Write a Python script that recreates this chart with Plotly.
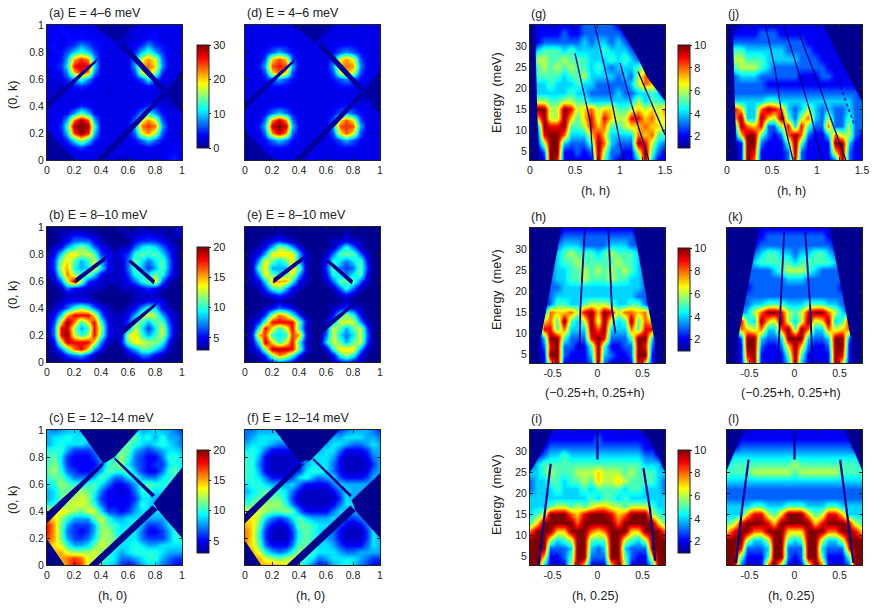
# constant-energy maps and energy cuts, 12 panels
import plotly.graph_objects as go

W, H = 872, 609

map_axis = [0.0, 0.05, 0.1, 0.15, 0.2, 0.25, 0.3, 0.35, 0.4, 0.45, 0.5, 0.55, 0.6, 0.65, 0.7, 0.75, 0.8, 0.85, 0.9, 0.95, 1.0]
map_k_desc = map_axis[::-1]
hh_axis = [0.0, 0.075, 0.15, 0.225, 0.3, 0.375, 0.45, 0.525, 0.6, 0.675, 0.75, 0.825, 0.9, 0.975, 1.05, 1.125, 1.2, 1.275, 1.35, 1.425, 1.5]
cut_axis = [-0.75, -0.675, -0.6, -0.525, -0.45, -0.375, -0.3, -0.225, -0.15, -0.075, 0.0, 0.075, 0.15, 0.225, 0.3, 0.375, 0.45, 0.525, 0.6, 0.675, 0.75]
energy_desc = [35, 33, 31, 29, 27, 25, 23, 21, 19, 17, 15, 13, 11, 9, 7, 5, 3]

# rows run from the top of the panel to the bottom
z_a = [
[3,3,4,3,3,3,3,3,2,1,1,1,1,2,3,3,3,3,3,3,3],
[4,3,4,4,3,4,3,3,3,2,1,1,2,3,3,3,4,3,3,3,3],
[3,4,3,4,4,4,4,4,3,3,2,2,2,3,3,4,4,3,3,3,3],
[4,4,3,4,5,8,6,4,4,3,3,2,3,3,5,8,5,4,3,3,3],
[3,4,4,6,10,13,10,6,3,3,3,3,3,5,10,13,9,5,3,3,3],
[4,3,4,9,21,25,22,9,3,3,3,3,3,8,18,22,18,7,3,3,3],
[3,4,5,11,26,28,27,11,3,3,3,3,3,9,21,23,20,8,3,3,3],
[3,3,4,8,21,26,22,8,3,3,3,3,3,6,19,22,16,5,3,3,3],
[3,3,3,5,8,13,8,4,3,3,3,3,3,4,6,12,7,3,3,3,2],
[3,2,2,3,4,5,4,3,3,3,3,3,3,3,3,4,3,3,2,2,2],
[2,2,3,3,3,3,3,3,3,2,3,3,3,3,3,3,3,2,1,1,1],
[3,3,3,3,3,3,3,3,3,3,3,3,3,3,3,3,3,2,2,1,1],
[3,3,3,3,3,5,4,3,3,3,3,3,3,3,3,5,4,3,2,2,2],
[3,3,3,4,8,14,9,4,3,3,3,3,3,4,8,12,8,4,3,3,3],
[3,3,4,9,23,29,24,9,3,3,3,3,3,7,18,22,18,6,3,3,3],
[3,3,5,13,29,30,29,13,3,3,3,3,3,10,23,25,23,9,3,3,3],
[3,3,4,10,25,30,26,10,3,3,3,3,3,7,19,22,17,6,3,3,3],
[2,3,3,5,11,17,11,5,3,3,3,3,3,4,7,10,7,4,3,3,3],
[2,2,3,3,4,6,4,3,3,3,3,3,3,3,3,4,3,3,3,4,3],
[1,2,2,3,3,3,3,3,3,3,3,3,3,3,3,3,3,3,4,4,3],
[1,1,1,2,3,3,3,3,3,3,2,1,2,3,3,3,3,3,4,5,3],
]
z_d = [
[3,3,3,3,3,3,3,3,2,1,1,1,1,2,3,3,3,3,3,3,3],
[3,3,3,3,3,3,3,3,3,2,1,1,2,3,3,3,3,3,3,3,3],
[3,3,3,3,3,3,3,3,3,3,2,2,3,3,3,3,3,3,3,3,3],
[3,3,3,3,4,4,4,3,3,3,3,3,3,3,4,4,4,3,3,3,3],
[3,3,3,4,6,9,6,4,3,3,3,3,3,4,6,8,6,4,3,3,3],
[3,3,3,6,20,24,20,6,3,3,3,3,3,6,18,22,18,6,3,3,3],
[3,3,4,9,24,26,24,9,3,3,3,3,3,8,22,23,22,8,3,3,3],
[3,3,3,6,20,24,20,6,3,3,3,3,3,6,18,22,18,6,3,3,3],
[3,3,3,4,6,9,6,4,3,3,3,3,3,4,6,8,6,4,3,3,3],
[3,3,3,3,4,4,4,3,3,3,3,3,3,3,4,4,4,3,2,2,2],
[3,3,3,3,3,3,3,3,3,3,3,3,3,3,3,3,3,2,1,1,1],
[3,3,3,3,3,3,3,3,3,3,3,3,3,3,3,3,3,2,2,2,2],
[3,3,3,3,4,4,4,3,3,3,3,3,3,3,4,4,4,3,3,2,2],
[3,3,3,4,7,10,7,4,3,3,3,3,3,4,6,9,6,4,3,3,3],
[3,3,3,7,22,28,22,7,3,3,3,3,3,6,19,24,19,6,3,3,3],
[3,3,4,10,28,30,28,10,3,3,3,3,3,9,24,25,24,9,3,3,3],
[3,3,3,7,22,28,22,7,3,3,3,3,3,6,19,24,19,6,3,3,3],
[3,3,3,4,7,10,7,4,3,3,3,3,3,4,6,9,6,4,3,3,3],
[2,3,3,3,4,4,4,3,3,3,3,3,3,3,4,4,4,3,3,3,3],
[1,2,3,3,3,3,3,3,3,3,3,3,3,3,3,3,3,3,3,3,3],
[1,1,2,3,3,3,3,3,3,3,3,3,3,3,3,3,3,3,3,3,3],
]
z_b = [
[3,3,3,3,3,3,3,3,3,3,3,4,3,3,4,3,3,4,3,4,5],
[3,3,4,4,5,5,4,4,3,3,3,3,4,4,4,5,4,4,3,4,4],
[3,3,4,5,7,7,7,5,4,3,3,3,3,5,6,6,6,5,4,3,3],
[3,4,5,8,10,12,10,7,5,4,3,4,4,7,9,10,9,7,5,4,3],
[4,5,9,13,14,12,13,11,6,5,4,5,6,10,11,10,11,9,6,4,3],
[4,6,12,14,11,8,10,13,8,5,4,4,7,11,9,7,9,11,7,4,3],
[4,6,13,15,10,8,9,14,9,5,4,4,7,11,8,6,8,11,7,4,3],
[4,5,11,16,12,10,12,9,5,4,4,4,6,10,10,9,11,10,6,4,3],
[3,4,7,13,19,12,6,5,4,4,4,4,5,7,10,11,14,7,4,3,3],
[3,3,4,7,5,5,4,4,4,3,3,4,4,4,5,6,5,4,3,3,3],
[3,3,3,4,4,4,4,3,3,3,3,3,3,4,4,4,4,3,3,3,3],
[3,3,4,5,5,5,5,4,3,3,3,3,3,4,4,5,5,5,3,3,3],
[3,4,5,7,10,12,10,7,5,4,3,3,4,5,8,10,9,5,4,3,3],
[4,5,9,15,18,18,18,14,7,4,4,4,5,8,12,13,12,8,5,4,3],
[4,6,14,20,16,10,14,18,10,5,4,4,6,11,11,8,11,11,6,4,3],
[4,7,18,19,12,8,10,18,12,5,4,4,7,13,9,6,9,13,7,4,3],
[4,7,18,20,13,10,12,18,11,5,4,4,13,14,10,8,10,13,7,4,3],
[3,5,13,19,18,18,18,14,7,4,3,5,11,14,13,12,12,10,5,3,3],
[3,4,7,11,16,18,14,8,5,3,3,3,6,8,11,11,9,7,4,3,3],
[3,3,4,6,7,8,6,4,3,3,3,3,4,5,7,7,5,4,3,3,3],
[3,3,3,4,4,4,4,3,3,3,3,3,3,3,4,4,4,3,3,3,3],
]
z_e = [
[3,3,3,3,3,3,3,3,3,3,3,3,3,3,3,3,3,3,3,3,3],
[3,3,3,3,3,4,3,3,3,3,3,3,3,3,3,4,3,3,3,3,3],
[3,3,3,4,5,6,5,4,3,3,3,3,3,4,4,5,4,4,3,3,3],
[3,3,4,5,8,12,11,8,5,3,3,3,3,4,7,10,7,4,3,3,3],
[3,4,5,8,14,14,14,14,8,4,3,3,4,7,11,11,11,7,4,3,3],
[3,4,8,14,11,9,11,14,8,4,3,3,5,10,9,7,9,11,5,3,3],
[3,4,11,14,8,8,8,14,11,4,3,3,6,11,7,6,7,11,6,3,3],
[3,4,8,14,11,9,11,14,8,4,3,3,5,10,9,7,9,11,5,3,3],
[3,4,5,9,15,15,15,10,5,4,3,3,4,7,11,11,11,7,4,3,3],
[3,3,4,6,10,12,8,5,4,3,3,3,3,4,7,10,7,4,3,3,3],
[3,3,3,4,5,6,5,4,3,3,3,3,3,3,4,5,4,3,3,3,3],
[3,3,3,3,3,4,3,3,3,3,3,3,3,3,3,4,3,3,3,3,3],
[3,3,3,4,5,7,6,5,3,3,3,3,3,4,5,6,5,4,3,3,3],
[3,3,4,6,12,16,14,10,6,3,3,3,3,5,10,12,10,5,3,3,3],
[3,4,6,11,18,18,18,18,11,5,3,3,4,8,13,13,13,8,4,3,3],
[3,4,10,18,14,10,13,18,10,4,3,3,6,13,11,8,11,13,6,3,3],
[3,5,15,17,10,9,10,17,15,5,3,3,7,13,9,7,9,13,7,3,3],
[3,4,10,19,14,10,13,18,10,4,3,3,9,13,11,8,11,13,6,3,3],
[3,4,6,12,19,19,19,18,11,5,3,3,4,10,14,14,14,8,4,3,3],
[3,3,4,6,12,16,14,10,6,3,3,3,3,5,10,12,10,5,3,3,3],
[3,3,3,4,5,7,6,5,3,3,3,3,3,4,5,6,5,4,3,3,3],
]
z_c = [
[8,7,8,8,9,8,8,7,8,9,8,9,10,9,8,8,9,8,8,7,6],
[8,9,9,10,9,9,10,9,9,9,10,9,10,11,9,10,8,10,8,8,7],
[8,9,10,9,9,9,8,9,10,10,9,10,11,10,9,8,9,10,9,8,7],
[10,10,10,8,6,6,6,7,9,10,10,11,11,8,7,6,7,8,9,9,8],
[10,11,9,6,5,5,5,6,8,10,10,12,10,7,6,5,5,7,10,10,9],
[10,12,9,6,5,5,5,5,7,10,11,12,9,7,6,5,6,6,9,10,9],
[11,12,10,7,6,5,5,6,8,11,10,10,11,8,6,5,5,7,10,11,9],
[10,11,11,9,7,7,7,8,11,9,7,7,9,10,8,7,7,9,10,10,9],
[9,10,12,11,10,10,10,11,9,7,5,5,6,8,10,11,10,10,10,9,8],
[8,9,11,11,12,12,11,10,7,5,5,4,5,7,10,10,9,9,9,8,8],
[8,9,11,13,12,13,12,9,6,5,5,5,5,6,9,9,8,8,8,8,7],
[9,10,11,12,13,13,12,10,7,5,5,5,5,7,10,9,8,7,7,7,7],
[13,13,14,13,12,11,13,13,9,6,6,5,6,8,9,9,9,9,9,8,8],
[15,14,12,10,8,8,8,11,13,10,8,8,9,9,9,8,8,8,9,9,8],
[18,15,11,8,6,6,6,8,12,11,10,9,9,10,8,6,6,7,9,10,9],
[18,15,11,7,6,5,6,8,12,12,10,9,10,9,7,5,5,6,8,10,10],
[17,15,11,8,6,6,7,9,12,12,11,9,9,9,7,6,6,6,8,10,10],
[15,14,13,10,8,8,9,11,13,12,10,9,9,10,9,8,8,9,9,9,9],
[14,15,15,13,12,12,12,13,12,10,9,8,9,10,10,10,10,9,8,8,8],
[12,14,15,16,17,16,13,13,11,10,9,7,7,8,9,10,10,8,7,6,6],
[11,13,14,16,18,17,13,11,10,9,8,6,5,6,8,9,9,7,6,5,5],
]
z_f = [
[7,7,8,8,8,8,8,7,7,6,6,6,6,6,6,7,8,8,8,7,6],
[7,8,9,9,9,9,9,9,8,7,7,7,7,8,8,9,9,9,8,8,7],
[8,9,9,9,8,7,7,8,9,9,8,8,8,9,9,8,7,7,8,9,8],
[9,10,9,7,5,5,5,5,7,9,9,8,9,9,7,5,5,5,6,8,8],
[10,10,8,5,4,4,4,4,5,8,9,9,9,8,5,4,4,4,5,7,8],
[10,10,7,5,4,4,4,4,5,8,9,9,9,7,5,4,4,4,4,6,8],
[10,10,8,5,4,4,4,5,6,9,10,10,9,7,5,4,4,4,5,7,8],
[10,10,9,7,5,5,5,6,9,10,8,7,8,9,6,5,5,5,6,8,8],
[9,10,10,9,8,8,8,9,7,5,5,5,5,7,9,8,8,8,8,8,8],
[8,9,10,11,10,10,9,7,5,4,4,4,4,5,7,9,8,8,8,8,8],
[9,10,11,11,11,11,9,6,4,4,4,4,4,4,6,9,8,8,8,8,8],
[10,11,12,12,12,12,10,7,5,4,4,4,4,5,7,9,9,8,8,8,8],
[13,13,13,12,11,11,12,11,7,5,5,5,5,7,9,8,8,8,9,8,8],
[14,14,12,9,7,6,7,9,11,9,8,8,8,9,8,6,6,7,8,9,8],
[15,14,11,7,5,4,5,7,11,11,10,9,9,8,6,5,4,5,7,9,8],
[16,14,10,6,4,4,4,6,10,11,10,9,8,7,5,4,4,4,6,9,8],
[16,14,10,6,4,4,4,6,10,11,10,9,8,7,5,4,4,4,6,9,8],
[15,14,11,7,5,5,5,7,11,11,10,9,9,8,6,5,5,5,7,9,8],
[15,15,13,10,8,7,8,10,12,11,10,9,9,9,8,7,7,8,8,8,8],
[15,15,15,13,12,11,12,13,12,10,9,7,8,9,9,9,9,8,7,6,6],
[14,15,15,15,15,15,14,12,10,9,7,5,6,8,9,10,9,7,6,5,5],
]
z_g = [
[1,2,2,2,2,2,2,2,3,3,3,3,3,2,1,1,1,1,1,1,1],
[1,2,2,2,2,3,2,2,3,3,3,3,3,3,2,1,1,1,1,1,1],
[1,2,3,3,3,3,3,3,4,3,4,4,3,4,3,2,1,1,1,1,1],
[1,4,5,5,5,4,5,4,4,4,4,5,4,4,4,3,2,1,1,1,1],
[1,6,6,5,5,6,5,5,5,4,4,4,5,4,5,4,3,3,1,1,1],
[1,5,6,5,6,5,6,5,5,4,5,4,3,4,4,4,5,6,5,1,1],
[1,5,5,5,5,4,5,5,6,4,4,4,4,3,4,3,6,8,9,1,1],
[1,4,4,5,4,4,4,5,4,4,3,3,3,3,3,4,6,8,7,5,1],
[1,4,4,4,4,4,5,4,4,3,3,3,3,4,3,3,4,4,5,4,3],
[1,6,6,5,5,6,6,5,5,4,4,4,4,4,4,4,6,4,5,5,4],
[1,10,10,6,6,10,9,6,7,8,6,7,7,5,5,6,7,6,7,6,8],
[1,7,10,6,6,10,7,5,7,9,6,9,7,6,6,9,9,7,8,6,7],
[1,3,10,9,9,10,5,5,6,9,7,8,5,5,6,7,7,8,7,7,6],
[1,2,9,10,10,8,4,4,4,7,9,7,4,4,4,4,8,7,8,5,5],
[1,2,6,10,10,4,3,3,3,5,10,8,4,3,3,3,10,9,6,4,3],
[1,1,3,10,10,2,2,3,2,3,10,6,3,3,2,2,6,10,5,3,2],
[1,1,2,10,9,2,2,2,2,2,10,5,3,2,2,2,4,10,4,2,2],
]
z_j = [
[1,1,2,2,2,2,2,2,2,2,2,2,2,2,2,1,1,1,1,1,1],
[1,2,2,2,2,3,3,3,2,2,2,2,2,2,2,2,2,2,2,1,1],
[1,3,3,3,3,3,3,3,3,3,3,3,2,2,2,2,2,2,2,1,1],
[1,5,5,4,4,4,4,4,4,3,3,3,3,2,2,2,2,2,2,1,1],
[1,6,6,5,5,5,4,4,4,4,4,3,3,3,2,2,2,2,2,1,1],
[1,5,6,6,6,5,4,3,3,3,3,3,3,3,3,2,2,2,2,2,1],
[1,3,4,4,4,3,3,3,3,3,3,2,2,2,3,3,2,2,2,2,2],
[1,3,3,3,3,3,2,2,2,2,2,2,2,2,2,2,2,2,2,2,2],
[1,3,3,3,3,3,3,3,3,3,3,3,3,3,3,3,3,3,3,3,2],
[1,4,4,4,4,4,5,5,4,4,4,4,4,4,4,4,4,4,4,3,3],
[1,9,7,4,4,8,10,9,8,4,3,4,6,4,3,4,3,3,4,3,3],
[1,7,10,4,4,10,7,6,10,5,3,6,8,4,3,6,3,3,5,3,3],
[1,3,10,8,7,9,3,3,6,9,4,9,5,3,3,8,3,3,6,3,3],
[1,2,7,10,10,5,3,2,3,8,10,8,3,2,2,4,8,6,6,3,2],
[1,2,2,10,10,3,2,2,2,5,10,5,2,2,2,2,10,10,4,2,2],
[1,1,2,10,9,2,2,2,2,3,10,3,2,2,2,2,7,10,3,2,2],
[1,1,2,10,8,2,2,2,2,3,9,3,2,2,2,2,3,10,3,2,2],
]
z_h = [
[1,1,1,1,1,2,2,2,2,2,2,2,2,2,2,2,1,1,1,1,1],
[1,1,1,1,2,3,3,3,3,3,3,3,3,3,3,3,2,1,1,1,1],
[1,1,1,1,3,4,4,4,3,3,3,3,4,4,4,3,3,1,1,1,1],
[1,1,1,2,4,5,6,5,5,5,4,5,6,5,5,5,4,2,1,1,1],
[1,1,1,3,4,5,5,6,5,5,5,5,5,6,5,5,4,3,1,1,1],
[1,1,2,3,4,4,5,5,6,5,6,5,6,5,6,5,4,3,2,1,1],
[1,1,2,3,4,4,5,5,6,5,5,5,6,5,5,4,4,3,2,1,1],
[1,1,2,3,3,4,4,4,4,4,4,4,4,4,4,4,4,3,2,1,1],
[1,1,2,3,4,4,4,4,4,4,4,4,4,4,4,4,3,3,2,1,1],
[1,1,2,3,5,5,4,4,5,6,6,6,5,4,4,5,5,3,2,1,1],
[1,1,3,8,7,7,8,6,9,10,7,10,9,6,8,8,7,8,3,1,1],
[1,1,7,8,5,10,5,4,6,10,6,10,6,4,5,10,5,8,7,1,1],
[1,1,9,9,5,8,4,4,4,10,8,10,4,4,4,8,5,9,9,1,1],
[1,1,4,10,10,5,3,3,3,9,10,9,3,3,3,5,10,10,4,1,1],
[1,1,3,9,10,3,3,2,2,5,10,5,2,2,3,3,10,9,3,1,1],
[1,1,2,10,10,3,2,2,2,4,10,4,3,2,2,3,10,10,2,2,1],
[1,1,2,7,10,2,2,2,2,3,10,3,2,2,2,2,10,7,2,1,1],
]
z_k = [
[1,1,1,1,1,2,2,2,2,2,2,2,2,2,2,2,1,1,1,1,1],
[1,1,1,1,2,2,3,3,3,3,3,3,3,3,3,2,2,1,1,1,1],
[1,1,1,2,2,3,3,3,3,3,3,3,3,3,3,3,2,2,1,1,1],
[1,1,1,2,3,4,5,5,4,4,3,4,4,5,5,4,3,2,1,1,1],
[1,1,2,3,4,5,5,5,5,5,4,5,5,5,5,5,4,3,2,1,1],
[1,1,2,3,3,3,3,4,5,6,6,6,5,4,3,3,3,3,2,1,1],
[1,1,2,3,3,3,3,3,3,4,4,4,3,3,3,3,3,3,2,1,1],
[1,1,2,2,3,3,3,3,3,3,3,3,3,3,3,3,3,2,2,1,1],
[1,1,2,3,3,3,3,3,3,3,3,3,3,3,3,3,3,3,2,1,1],
[1,2,3,3,4,4,5,5,5,4,4,4,5,5,5,4,4,3,3,2,1],
[1,2,3,4,6,8,10,10,9,6,5,6,9,10,10,8,6,4,3,2,1],
[1,2,9,5,4,10,7,6,10,6,4,6,10,6,7,10,4,5,9,2,1],
[1,2,8,7,6,8,4,4,8,10,5,10,8,4,4,8,6,7,8,2,1],
[1,1,3,10,10,4,3,3,4,10,10,10,4,3,3,4,10,10,3,1,1],
[1,1,2,10,10,3,2,2,3,7,10,7,3,2,2,3,10,10,2,1,1],
[1,1,2,9,10,2,2,2,2,5,10,5,2,2,2,2,10,9,2,1,1],
[1,1,2,7,10,2,2,2,2,4,10,4,2,2,2,2,10,7,2,1,1],
]
z_i = [
[1,1,1,2,2,2,2,2,2,2,2,2,2,2,2,2,2,1,1,1,1],
[1,1,1,2,2,2,2,2,2,2,3,2,2,2,2,2,2,2,1,1,1],
[1,1,2,3,3,3,3,3,3,3,3,3,3,3,3,3,3,2,2,1,1],
[1,2,3,4,4,5,4,4,4,4,4,4,4,4,4,4,4,3,3,2,1],
[2,4,5,5,5,5,5,5,5,5,5,5,5,5,5,5,5,4,4,4,2],
[4,4,5,6,5,5,5,6,6,6,7,6,6,6,5,6,5,5,5,4,4],
[3,4,4,5,5,4,5,5,6,5,7,6,6,7,6,5,5,5,5,4,3],
[3,4,4,4,5,4,4,4,5,4,5,5,5,5,4,5,5,4,4,4,3],
[4,4,4,4,4,4,4,4,4,5,4,5,5,4,5,4,4,4,4,4,4],
[4,4,4,5,6,6,5,6,5,6,7,7,6,6,5,6,6,6,5,4,4],
[4,5,6,10,10,10,8,7,9,10,10,10,9,7,8,10,10,10,6,5,4],
[5,7,10,10,10,10,10,8,10,10,10,10,10,8,10,10,10,10,10,7,5],
[8,10,10,10,7,7,10,10,10,8,7,8,10,10,10,7,7,10,10,10,8],
[10,10,10,6,4,5,6,10,10,5,5,5,10,10,6,5,4,6,10,10,10],
[10,10,10,3,3,3,4,10,10,4,3,4,10,10,4,3,3,3,10,10,10],
[10,10,7,2,2,3,5,10,10,3,3,3,10,10,5,3,2,2,7,10,10],
[10,10,4,2,2,2,6,10,7,2,2,2,7,10,6,2,2,2,4,10,10],
]
z_l = [
[1,1,1,2,2,2,2,2,2,2,2,2,2,2,2,2,2,2,1,1,1],
[1,1,2,2,2,2,2,2,2,2,2,2,2,2,2,2,2,2,2,1,1],
[1,2,3,3,3,3,3,3,3,3,3,3,3,3,3,3,3,3,3,2,1],
[3,4,4,4,4,4,4,4,4,4,4,4,4,4,4,4,4,4,4,4,3],
[4,5,5,5,5,5,5,5,5,5,6,5,5,5,5,5,5,5,5,5,4],
[5,5,5,5,6,6,6,6,6,6,5,6,6,6,6,6,6,5,5,5,5],
[4,4,4,4,4,4,4,4,4,4,4,4,4,4,4,4,4,4,4,4,4],
[3,3,3,3,3,3,3,3,3,3,3,3,3,3,3,3,3,3,3,3,3],
[3,3,3,3,3,3,3,3,3,3,3,3,3,3,3,3,3,3,3,3,3],
[4,4,4,4,5,5,4,4,4,5,5,5,4,4,4,5,5,4,4,4,4],
[4,4,4,7,9,9,6,5,7,10,10,10,7,5,6,9,9,7,4,4,4],
[5,6,9,10,10,10,9,7,10,10,10,10,10,7,9,10,10,10,9,6,5],
[7,9,10,10,8,8,10,10,10,7,7,7,10,10,10,8,8,10,10,9,7],
[10,10,10,6,4,4,6,10,10,5,4,5,10,10,6,4,4,6,10,10,10],
[10,10,9,3,3,3,4,10,10,3,3,3,10,10,4,3,3,3,9,10,10],
[10,10,5,2,2,2,5,10,10,3,2,3,10,10,5,2,2,2,5,10,10],
[10,10,3,2,2,2,8,10,6,2,2,2,6,10,8,2,2,2,3,10,10],
]

# detector gaps, as outlines in data units
gap_ad_x = [0, 0.36, 0.38, 0, None, 0.35, 0.62, 0.52, None, 0.54, 0.86, 0.88, 0.57, None, 0.36, 0.43, 0.88, 0.86, None, 0, 0.21, 0, None, 0.88, 1, 1]
gap_ad_y = [0.37, 0.72, 0.76, 0.43, None, 1, 1, 0.87, None, 0.84, 0.5, 0.53, 0.87, None, 0, 0, 0.48, 0.5, None, 0, 0, 0.22, None, 0.5, 0.34, 0.67]
gap_be_x = [0.21, 0.43, 0.44, 0.21, None, 0.6, 0.79, 0.8, 0.62, None, 0.56, 0.8, 0.82, 0.56]
gap_be_y = [0.58, 0.75, 0.79, 0.62, None, 0.745, 0.575, 0.605, 0.76, None, 0.2, 0.41, 0.45, 0.25]
gap_c_x = [0, 0.42, 0.41, 0, None, 0.24, 0.68, 0.5, 0.42, None, 0.5, 0.78, 0.8, 0.5, None, 0.31, 0.38, 0.82, 0.78, None, 0, 0.13, 0, None, 0.79, 1, 1, 0.82]
gap_c_y = [0.31, 0.74, 0.76, 0.39, None, 1, 1, 0.8, 0.75, None, 0.78, 0.5, 0.52, 0.8, None, 0, 0, 0.41, 0.44, None, 0, 0, 0.19, None, 0.46, 0.72, 0.2, 0.41]
gap_f_x = [0, 0.47, 0.41, 0, None, 0.22, 0.7, 0.49, 0.42, None, 0.5, 0.78, 0.79, 0.51, None, 0.31, 0.39, 0.82, 0.78, None, 0, 0.12, 0, None, 0.79, 1, 1, 0.82]
gap_f_y = [0.31, 0.78, 0.76, 0.38, None, 1, 1, 0.78, 0.74, None, 0.78, 0.5, 0.52, 0.79, None, 0, 0, 0.4, 0.44, None, 0, 0, 0.18, None, 0.48, 0.68, 0.2, 0.4]

edge_g_x = [0, 0.055, 0.08, 0.1, 0, None, 0.98, 1.5, 1.5, 1.44, 1.3, 1.185]
edge_g_y = [35, 35, 15, 3, 3, None, 35, 35, 17, 18.7, 22.7, 27.8]
edge_j_x = [0, 0.063, 0.09, 0.11, 0, None, 1.07, 1.5, 1.5, 1.33]
edge_j_y = [35, 35, 15, 3, 3, None, 35, 35, 17, 23.5]
edge_h_x = [-0.75, -0.4, -0.64, -0.67, -0.75, None, 0.4, 0.75, 0.75, 0.66, 0.64]
edge_h_y = [35, 35, 7.6, 3, 3, None, 35, 35, 3, 3, 7.6]
edge_k_x = [-0.75, -0.39, -0.68, -0.75, None, 0.39, 0.75, 0.75, 0.68]
edge_k_y = [35, 35, 3, 3, None, 35, 35, 3, 3]
edge_i_x = [-0.75, -0.5, -0.64, -0.75, None, 0.51, 0.75, 0.75, 0.66]
edge_i_y = [35, 35, 29, 25, None, 35, 35, 25, 29.5]
edge_l_x = [-0.75, -0.567, -0.75, None, 0.563, 0.75, 0.75]
edge_l_y = [35, 35, 25.5, None, 35, 35, 25.5]

line_g_x = [0.5, 0.6, 0.67, 0.7, None, 0.72, 0.85, 1.04, None, 1.0, 1.13, 1.32, None, 1.2, 1.5]
line_g_y = [28.3, 19, 12, 3, None, 35, 23, 3, None, 26, 16, 3, None, 24, 9]
line_j_x = [0.426, 0.53, 0.6, 0.733, None, 0.63, 0.75, 0.93, 1.05, None, 0.8, 1.0, 1.15, 1.32]
line_j_y = [35, 25, 15, 3, None, 35, 27, 14, 3, None, 33, 22, 13, 3]
line_h_x = [-0.14, -0.19, -0.2, None, 0.12, 0.16, 0.2]
line_h_y = [35, 16, 6, None, 35, 16, 10]
line_k_x = [-0.115, -0.16, -0.185, None, 0.12, 0.175, 0.2]
line_k_y = [34, 16, 3, None, 34, 16, 3]
line_i_x = [-0.52, -0.58, -0.655, None, 0.51, 0.585, 0.64, None, 0, 0]
line_i_y = [27, 16, 3, None, 26, 16, 4, None, 35, 28]
line_l_x = [-0.51, -0.585, -0.65, None, 0.507, 0.58, 0.655, None, 0, 0]
line_l_y = [28, 16, 3.5, None, 28, 16, 3.5, None, 35, 28]
dash_j_x = [1.0, 1.2, 1.42]
dash_j_y = [35, 24, 11]

map_ticks = [0, 0.2, 0.4, 0.6, 0.8, 1]
map_ticktext = ["0", "0.2", "0.4", "0.6", "0.8", "1"]
energy_ticks = [5, 10, 15, 20, 25, 30, 35]
energy_ticktext = ["5", "10", "15", "20", "25", "30", ""]
hh_ticks = [0, 0.25, 0.5, 0.75, 1, 1.25, 1.5]
hh_ticktext = ["0", "", "0.5", "", "1", "", "1.5"]
cut_ticks = [-0.75, -0.5, -0.25, 0, 0.25, 0.5, 0.75]
cut_ticktext = ["", "-0.5", "", "0", "", "0.5", ""]

jet = [[0, "#00008f"], [0.125, "#0000ff"], [0.375, "#00ffff"], [0.625, "#ffff00"], [0.875, "#ff0000"], [1, "#800000"]]
DARK = "#00008f"
TXT = "#222222"
FONT = "Liberation Sans, Arial, sans-serif"

fig = go.Figure()
n = 0


def panel(z, xs, ys, left, top, zrange, xt, xtt, yt, ytt, yrange, xrange, ylabels,
          cbar=None, cbar_x=0, gaps=None, lines=None, line_w=2):
    global n
    n += 1
    xa, ya = f"x{n}", f"y{n}"
    hm = dict(z=z[::-1], x=xs, y=ys[::-1], xaxis=xa, yaxis=ya, zmin=zrange[0], zmax=zrange[1],
              colorscale=jet, zsmooth="best", showscale=cbar is not None, hoverinfo="skip")
    if cbar:
        hm["colorbar"] = dict(x=cbar_x / W, xanchor="left", y=1 - (top + 20) / H, yanchor="top",
                              len=103 / H, lenmode="fraction", thickness=12, xpad=0, ypad=0,
                              tickvals=cbar, outlinewidth=1, outlinecolor="#222", ticks="outside",
                              ticklen=2, tickcolor="#222", tickfont=dict(size=11, color=TXT, family=FONT))
    fig.add_trace(go.Heatmap(**hm))
    if gaps:
        gx, gy, col = gaps
        fig.add_trace(go.Scatter(x=gx, y=gy, mode="lines", fill="toself", fillcolor=col,
                                 line=dict(width=0, color=col), xaxis=xa, yaxis=ya, hoverinfo="skip"))
    if lines:
        fig.add_trace(go.Scatter(x=lines[0], y=lines[1], mode="lines", line=dict(color=DARK, width=line_w),
                                 xaxis=xa, yaxis=ya, hoverinfo="skip"))
    common = dict(showline=True, linecolor="#222", linewidth=1, mirror="allticks", ticks="inside",
                  ticklen=3, tickwidth=1, tickcolor="#222", showgrid=False, zeroline=False, automargin=False,
                  tickfont=dict(size=10.5, color=TXT, family=FONT), tickmode="array", tickangle=0)
    fig.layout[f"xaxis{n}"] = dict(common, domain=[left / W, (left + 135) / W], range=xrange,
                                   tickvals=xt, ticktext=xtt, anchor=ya)
    fig.layout[f"yaxis{n}"] = dict(common, domain=[1 - (top + 135) / H, 1 - top / H], range=yrange,
                                   tickvals=yt, ticktext=ytt if ylabels else [""] * len(yt), anchor=xa)


def label(px, py, text, angle=0, anchor="center"):
    fig.add_annotation(x=px / W, y=1 - py / H, xref="paper", yref="paper", text=text, showarrow=False,
                       textangle=angle, xanchor=anchor, yanchor="middle",
                       font=dict(size=12.5, color=TXT, family=FONT))


tops_l = [25, 227, 430]
tops_r = [25, 228, 430]
for z, top, cb, zr, g, col in [
    (z_a, tops_l[0], [0, 10, 20, 30], [0, 30], (gap_ad_x, gap_ad_y), "#0000a0"),
    (z_b, tops_l[1], [5, 10, 15, 20], [3, 20], (gap_be_x, gap_be_y), "#00008f"),
    (z_c, tops_l[2], [5, 10, 15, 20], [3, 20], (gap_c_x, gap_c_y), "#00008f"),
]:
    panel(z, map_axis, map_k_desc, 47, top, zr, map_ticks, map_ticktext, map_ticks, map_ticktext,
          [0, 1], [0, 1], True, cbar=cb, cbar_x=197, gaps=(g[0], g[1], col))
for z, top, zr, g, col in [
    (z_d, tops_l[0], [0, 30], (gap_ad_x, gap_ad_y), "#0000a0"),
    (z_e, tops_l[1], [3, 20], (gap_be_x, gap_be_y), "#00008f"),
    (z_f, tops_l[2], [3, 20], (gap_f_x, gap_f_y), "#00008f"),
]:
    panel(z, map_axis, map_k_desc, 245, top, zr, map_ticks, map_ticktext, map_ticks, map_ticktext,
          [0, 1], [0, 1], False, gaps=(g[0], g[1], col))

cuts = [
    (z_g, z_j, hh_axis, hh_ticks, hh_ticktext, [0, 1.5], (edge_g_x, edge_g_y), (edge_j_x, edge_j_y), (line_g_x, line_g_y), (line_j_x, line_j_y), tops_r[0], 1.3),
    (z_h, z_k, cut_axis, cut_ticks, cut_ticktext, [-0.75, 0.75], (edge_h_x, edge_h_y), (edge_k_x, edge_k_y), (line_h_x, line_h_y), (line_k_x, line_k_y), tops_r[1], 1.8),
    (z_i, z_l, cut_axis, cut_ticks, cut_ticktext, [-0.75, 0.75], (edge_i_x, edge_i_y), (edge_l_x, edge_l_y), (line_i_x, line_i_y), (line_l_x, line_l_y), tops_r[2], 2.2),
]
for zl, zr_, xs, xt, xtt, xr, el, er, ll, lr, top, lw in cuts:
    panel(zl, xs, energy_desc, 530, top, [1, 10], xt, xtt, energy_ticks, energy_ticktext, [3, 35], xr, True,
          cbar=[2, 4, 6, 8, 10], cbar_x=678, gaps=(el[0], el[1], DARK), lines=ll, line_w=lw)
    panel(zr_, xs, energy_desc, 727, top, [1, 10], xt, xtt, energy_ticks, energy_ticktext, [3, 35], xr, False,
          gaps=(er[0], er[1], DARK), lines=lr, line_w=lw)
    if zr_ is z_j:
        fig.add_trace(go.Scatter(x=dash_j_x, y=dash_j_y, mode="lines", line=dict(color=DARK, width=1.3, dash="dot"),
                                 xaxis=f"x{n}", yaxis=f"y{n}", hoverinfo="skip"))

for px, py, t in [(47, 13, "(a) E = 4–6 meV"), (245, 13, "(d) E = 4–6 meV"),
                  (47, 215, "(b) E = 8–10 meV"), (245, 215, "(e) E = 8–10 meV"),
                  (47, 418, "(c) E = 12–14 meV"), (245, 418, "(f) E = 12–14 meV"),
                  (529, 14, "(g)"), (726, 14, "(j)"), (529, 217, "(h)"), (726, 217, "(k)"),
                  (529, 419, "(i)"), (726, 419, "(l)")]:
    label(px, py, t, anchor="left")
for py in [95, 295, 500]:
    label(13, py, "(0, k)", angle=-90)
for py in [93, 290, 495]:
    label(497, py, "Energy  (meV)", angle=-90)
for px, py, t in [(112, 596, "(h, 0)"), (310, 596, "(h, 0)"), (595, 191, "(h, h)"), (791, 191, "(h, h)"),
                  (595, 393, "(−0.25+h, 0.25+h)"), (791, 393, "(−0.25+h, 0.25+h)"),
                  (595, 596, "(h, 0.25)"), (791, 596, "(h, 0.25)")]:
    label(px, py, t)

fig.update_layout(width=W, height=H, margin=dict(l=0, r=0, t=0, b=0, pad=0), showlegend=False,
                  paper_bgcolor="white", plot_bgcolor="white")
fig.write_html("out.html", config={"displayModeBar": False}, post_script="document.body.style.margin='0';")
